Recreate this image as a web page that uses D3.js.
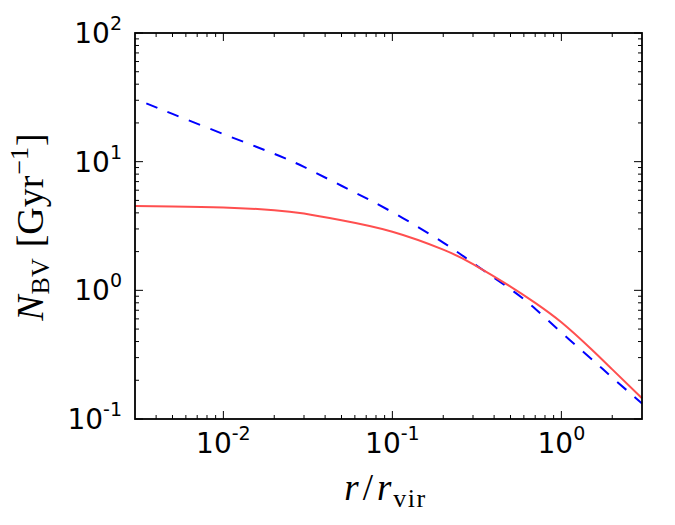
<!DOCTYPE html>
<html>
<head>
<meta charset="utf-8">
<script src="https://cdn.jsdelivr.net/npm/d3@7"></script>
<style>
  body { margin: 0; background: #fff; }
  svg { display: block; }
</style>
</head>
<body>
<div id="chart"></div>
<script>
// values
const rRed = [0.003, 0.005, 0.01, 0.02, 0.03, 0.05, 0.1, 0.2, 0.3, 0.5, 0.7, 1.0, 1.5, 2.0, 3.0];
const nRed = [4.52, 4.49, 4.41, 4.2, 3.95, 3.5, 2.85, 2.07, 1.60, 1.07, 0.80, 0.565, 0.35, 0.243, 0.145];

const rBlue = [0.0035, 0.005, 0.01, 0.02, 0.03, 0.05, 0.1, 0.2, 0.3, 0.5, 0.7, 1.0, 1.5, 2.0, 3.0];
const nBlue = [28.4, 23.5, 16.4, 11.5, 9.1, 6.5, 4.05, 2.35, 1.63, 1.02, 0.72, 0.47, 0.294, 0.21, 0.132];

const xTicks = [{ v: 0.01, e: "-2" }, { v: 0.1, e: "-1" }, { v: 1, e: "0" }];
const yTicks = [{ v: 0.1, e: "-1" }, { v: 1, e: "0" }, { v: 10, e: "1" }, { v: 100, e: "2" }];

const W = 675, H = 525;
const margin = { top: 33, right: 33, bottom: 106, left: 135 };
const width = W - margin.left - margin.right;
const height = H - margin.top - margin.bottom;

const svg = d3.select("#chart").append("svg")
    .attr("width", W)
    .attr("height", H);

const g = svg.append("g")
    .attr("transform", `translate(${margin.left},${margin.top})`);

const x = d3.scaleLog().domain([0.003, 3]).range([0, width]);
const y = d3.scaleLog().domain([0.1, 100]).range([height, 0]);

// minor ticks (2..9 of each decade)
const minorX = [], minorY = [];
for (let p = -3; p <= 0; p++) {
    for (let m = 2; m <= 9; m++) {
        const v = m * Math.pow(10, p);
        if (v > 0.003 && v < 3) minorX.push(v);
    }
}
for (let p = -1; p <= 1; p++) {
    for (let m = 2; m <= 9; m++) minorY.push(m * Math.pow(10, p));
}

const ticks = g.append("g").attr("stroke", "#000").attr("stroke-width", 1);
// ticks on all four sides, pointing in
minorX.forEach(v => {
    ticks.append("line").attr("x1", x(v)).attr("x2", x(v)).attr("y1", height).attr("y2", height - 4);
    ticks.append("line").attr("x1", x(v)).attr("x2", x(v)).attr("y1", 0).attr("y2", 4);
});
xTicks.forEach(t => {
    ticks.append("line").attr("x1", x(t.v)).attr("x2", x(t.v)).attr("y1", height).attr("y2", height - 8);
    ticks.append("line").attr("x1", x(t.v)).attr("x2", x(t.v)).attr("y1", 0).attr("y2", 8);
});
minorY.forEach(v => {
    ticks.append("line").attr("x1", 0).attr("x2", 4).attr("y1", y(v)).attr("y2", y(v));
    ticks.append("line").attr("x1", width).attr("x2", width - 4).attr("y1", y(v)).attr("y2", y(v));
});
yTicks.forEach(t => {
    ticks.append("line").attr("x1", 0).attr("x2", 8).attr("y1", y(t.v)).attr("y2", y(t.v));
    ticks.append("line").attr("x1", width).attr("x2", width - 8).attr("y1", y(t.v)).attr("y2", y(t.v));
});

// tick labels
const tickFont = "'DejaVu Sans', sans-serif";
xTicks.forEach(t => {
    const txt = g.append("text")
        .attr("x", x(t.v))
        .attr("y", height + 34)
        .attr("text-anchor", "middle")
        .style("font-family", tickFont)
        .style("font-size", "28px");
    txt.append("tspan").text("10");
    txt.append("tspan").attr("dy", -13).style("font-size", "19px").text(t.e);
});
yTicks.forEach(t => {
    const txt = g.append("text")
        .attr("x", -13)
        .attr("y", y(t.v) + 10)
        .attr("text-anchor", "end")
        .style("font-family", tickFont)
        .style("font-size", "28px");
    txt.append("tspan").text("10");
    txt.append("tspan").attr("dy", -13).style("font-size", "19px").text(t.e);
});

// curves
const line = d3.line()
    .x(d => x(d[0]))
    .y(d => y(d[1]))
    .curve(d3.curveNatural);

g.append("path")
    .datum(rBlue.map((r, i) => [r, nBlue[i]]))
    .attr("d", line)
    .attr("fill", "none")
    .attr("stroke", "#0000ff")
    .attr("stroke-width", 2)
    .attr("stroke-dasharray", "12,11");

g.append("path")
    .datum(rRed.map((r, i) => [r, nRed[i]]))
    .attr("d", line)
    .attr("fill", "none")
    .attr("stroke", "#ff4f4f")
    .attr("stroke-width", 2);

// frame
g.append("rect")
    .attr("width", width)
    .attr("height", height)
    .attr("fill", "none")
    .attr("stroke", "#000")
    .attr("stroke-width", 1.8);

// axis labels
const labelFont = "'Liberation Serif', 'DejaVu Serif', serif";
const xl = svg.append("text")
    .attr("x", margin.left + width / 2 - 3)
    .attr("y", 500)
    .attr("text-anchor", "middle")
    .style("font-family", labelFont)
    .style("font-size", "37px");
xl.append("tspan").style("font-style", "italic").text("r");
xl.append("tspan").attr("dx", 4).text("/");
xl.append("tspan").attr("dx", 4).style("font-style", "italic").text("r");
xl.append("tspan").attr("dx", 2).attr("dy", 7).style("font-size", "26px")
    .style("letter-spacing", "1.5px").text("vir");

const yl = svg.append("text")
    .attr("transform", `translate(43,227) rotate(-90)`)
    .attr("text-anchor", "middle")
    .style("font-family", labelFont)
    .style("font-size", "38px");
yl.append("tspan").style("font-style", "italic").text("N");
yl.append("tspan").attr("dx", 1).attr("dy", 6).style("font-size", "26px").text("BV");
yl.append("tspan").attr("dx", 11).attr("dy", -6).text("[Gyr");
yl.append("tspan").attr("dx", 1).attr("dy", -15).style("font-size", "26px").text("\u22121");
yl.append("tspan").attr("dx", 1).attr("dy", 15).text("]");
</script>
</body>
</html>
